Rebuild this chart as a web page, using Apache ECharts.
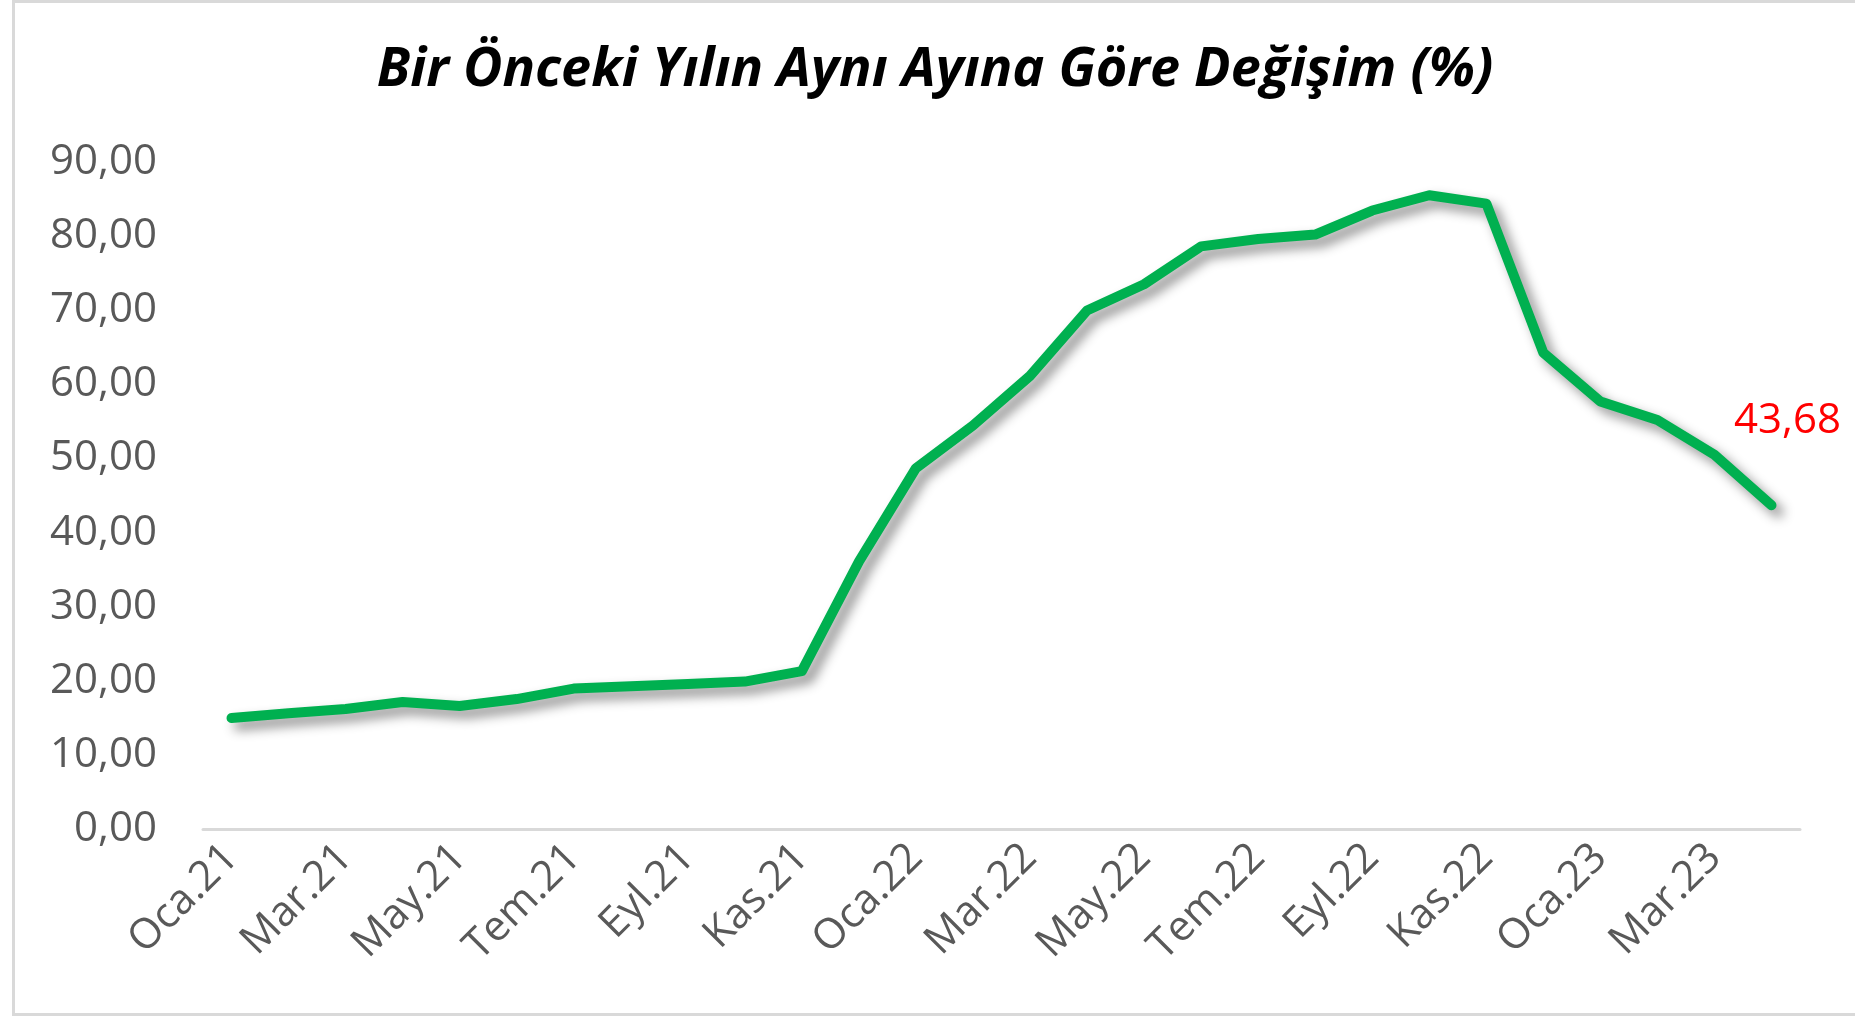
<!DOCTYPE html>
<html>
<head>
<meta charset="utf-8">
<script src="https://cdn.jsdelivr.net/npm/echarts@6/dist/echarts.min.js"></script>
<style>
  html, body { margin: 0; padding: 0; background: #fff; }
  #chart {
    position: absolute; left: 12px; top: 0; width: 1843px; height: 1016px;
    border-left: 3px solid #d9d9d9; border-top: 3px solid #d9d9d9; border-bottom: 3px solid #d9d9d9;
    box-sizing: border-box;
  }
</style>
</head>
<body>
<div id="chart"></div>
<script>
// aylar (Oca.21 - Nis.23)
const months = [
  'Oca.21', 'Şub.21', 'Mar.21', 'Nis.21', 'May.21', 'Haz.21', 'Tem.21', 'Ağu.21', 'Eyl.21', 'Eki.21', 'Kas.21', 'Ara.21',
  'Oca.22', 'Şub.22', 'Mar.22', 'Nis.22', 'May.22', 'Haz.22', 'Tem.22', 'Ağu.22', 'Eyl.22', 'Eki.22', 'Kas.22', 'Ara.22',
  'Oca.23', 'Şub.23', 'Mar.23', 'Nis.23'
];
// yıllık değişim (%)
const yoy = [
  14.97, 15.61, 16.19, 17.14, 16.59, 17.53, 18.95, 19.25, 19.58, 19.89, 21.31, 36.08,
  48.69, 54.44, 61.14, 69.97, 73.50, 78.62, 79.60, 80.21, 83.45, 85.51, 84.39, 64.27,
  57.68, 55.18, 50.51, 43.68
];
const yMin = 0, yMax = 90, yStep = 10;

const fmt = v => v.toFixed(2).replace('.', ',');
const font = '"Open Sans", "Noto Sans", sans-serif';

const chart = echarts.init(document.getElementById('chart'));
chart.setOption({
  backgroundColor: '#fff',
  animation: false,
  title: {
    text: 'Bir Önceki Yılın Aynı Ayına Göre Değişim (%)',
    left: 'center',
    top: 36,
    textStyle: { fontFamily: font, fontSize: 54, fontWeight: 'bold', fontStyle: 'italic', color: '#000' }
  },
  grid: { left: 188, right: 55, top: 159, bottom: 184 },
  xAxis: {
    type: 'category',
    data: months,
    boundaryGap: true,
    axisLine: { lineStyle: { color: '#d9d9d9', width: 3 } },
    axisTick: { interval: 1, length: 14, lineStyle: { color: '#d9d9d9', width: 3 } },
    axisLabel: {
      interval: 1, rotate: 45, margin: 22,
      color: '#595959', fontFamily: font, fontSize: 42
    },
    splitLine: { show: false }
  },
  yAxis: {
    type: 'value',
    min: yMin, max: yMax, interval: yStep,
    axisLine: { show: false },
    axisTick: { show: false },
    splitLine: { show: false },
    axisLabel: { formatter: fmt, color: '#595959', fontFamily: font, fontSize: 42, margin: 46 }
  },
  series: [{
    type: 'line',
    data: yoy,
    showSymbol: false,
    lineStyle: {
      color: '#00b050', width: 10, cap: 'round', join: 'round',
      shadowColor: 'rgba(0,0,0,0.45)', shadowBlur: 12, shadowOffsetX: 7, shadowOffsetY: 7
    },
    itemStyle: { color: '#00b050' },
    markPoint: {
      symbol: 'circle', symbolSize: 0,
      data: [{ coord: [months.length - 1, yoy[yoy.length - 1]], value: yoy[yoy.length - 1] }],
      label: {
        show: true, formatter: p => fmt(p.value),
        color: '#ff0000', fontFamily: font, fontSize: 42,
        position: 'top', offset: [16, -58]
      }
    }
  }]
});
</script>
</body>
</html>
